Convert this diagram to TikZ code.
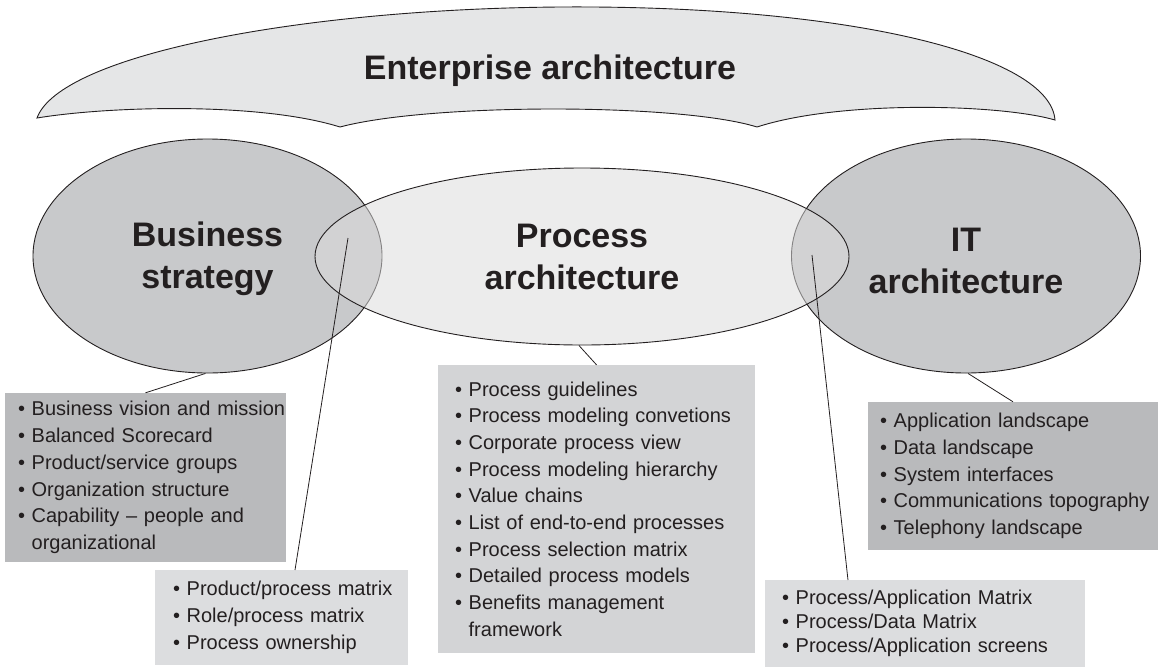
\documentclass[tikz,border=0pt]{standalone}
\usepackage{fontspec}
\setmainfont{Liberation Sans}
\usetikzlibrary{shapes.geometric,calc}
\definecolor{bannerfill}{RGB}{229,230,231}
\definecolor{sidefill}{RGB}{200,201,203}
\definecolor{midfill}{RGB}{219,219,219}
\definecolor{darkbox}{RGB}{185,186,188}
\definecolor{lightbox}{RGB}{220,221,223}
\definecolor{midbox}{RGB}{211,212,214}
\definecolor{inkc}{RGB}{35,31,32}
\newcommand{\li}[1]{\mbox{•\ #1}}
\newcommand{\lc}[1]{\mbox{\phantom{•\ }#1}}
\tikzset{
  outline/.style={draw=inkc, line width=0.9pt},
  bigtitle/.style={font=\bfseries\fontsize{34}{42}\selectfont, text=inkc, align=center},
  sideell/.style={ellipse, outline, fill=sidefill, inner sep=0pt, minimum width=349pt, minimum height=234pt, bigtitle},
  midell/.style={ellipse, draw=inkc, line width=0.9pt, fill=midfill, fill opacity=0.53, draw opacity=1, text opacity=1, inner sep=0pt, minimum width=534pt, minimum height=177pt, bigtitle},
  listbox/.style={rectangle, inner sep=0pt, align=left, text=inkc, font=\fontsize{20}{26.7}\selectfont},
  conn/.style={draw=inkc, line width=0.8pt},
}
\begin{document}
\begin{tikzpicture}[x=1pt,y=-1pt]
\useasboundingbox (0,0) rectangle (1162,670);
% banner
\draw[outline, fill=bannerfill]
  (37,118) .. controls (60,55) and (300,9) .. (560,7)
  .. controls (850,5) and (1050,55) .. (1055,120)
  .. controls (1000,104) and (840,100) .. (757,127)
  .. controls (680,103) and (430,103) .. (340,127)
  .. controls (260,102) and (110,106) .. (37,118) -- cycle;
\node[bigtitle] (ea) at (550,71) {Enterprise architecture};
% ellipses
\node[sideell] (bs) at (207.5,256) {\rule{0pt}{30.5pt}Business\\strategy};
\node[sideell] (it) at (966,256) {\rule{0pt}{32.5pt}IT\\architecture};
\node[midell] (pa) at (582,256.5) {Process\\architecture};
% boxes
\node[listbox, fill=darkbox, minimum width=281pt, minimum height=169pt, text width=255pt] (bsbox) at (145.5,477.5)
 {\li{Business vision and mission}\\\li{Balanced Scorecard}\\\li{Product/service groups}\\\li{Organization structure}\\\li{Capability – people and}\\\lc{organizational}};
\node[listbox, fill=lightbox, minimum width=253pt, minimum height=95pt, text width=217pt] (ppbox) at (281.5,617.5)
 {\li{Product/process matrix}\\\li{Role/process matrix}\\\li{Process ownership}};
\node[listbox, fill=midbox, minimum width=317pt, minimum height=288pt, text width=283pt] (pabox) at (596.5,509)
 {\li{Process guidelines}\\\li{Process modeling convetions}\\\li{Corporate process view}\\\li{Process modeling hierarchy}\\\li{Value chains}\\\li{List of end-to-end processes}\\\li{Process selection matrix}\\\li{Detailed process models}\\\li{Benefits management}\\\lc{framework}};
\node[listbox, fill=darkbox, minimum width=290pt, minimum height=148pt, text width=266pt] (itbox) at (1013,476)
 {\li{Application landscape}\\\li{Data landscape}\\\li{System interfaces}\\\li{Communications topography}\\\li{Telephony landscape}};
\node[listbox, fill=lightbox, minimum width=320pt, minimum height=87pt, text width=286pt, font=\fontsize{20}{24}\selectfont] (pabbox) at (925,623.5)
 {\li{Process/Application Matrix}\\\li{Process/Data Matrix}\\\li{Process/Application screens}};
% connectors
\coordinate (bsend) at (348,238);
\coordinate (itend) at (812,255);
\coordinate (pptop) at (295,570);
\coordinate (pabtop) at (848,580);
\draw[conn] (bsbox.north) -- (bs.-91);
\draw[conn] (pabox.north) -- (pa.-92);
\draw[conn] (itbox.north) -- (it.-89);
\draw[conn] (pptop) -- (bsend);
\draw[conn] (pabtop) -- (itend);
\end{tikzpicture}
\end{document}
